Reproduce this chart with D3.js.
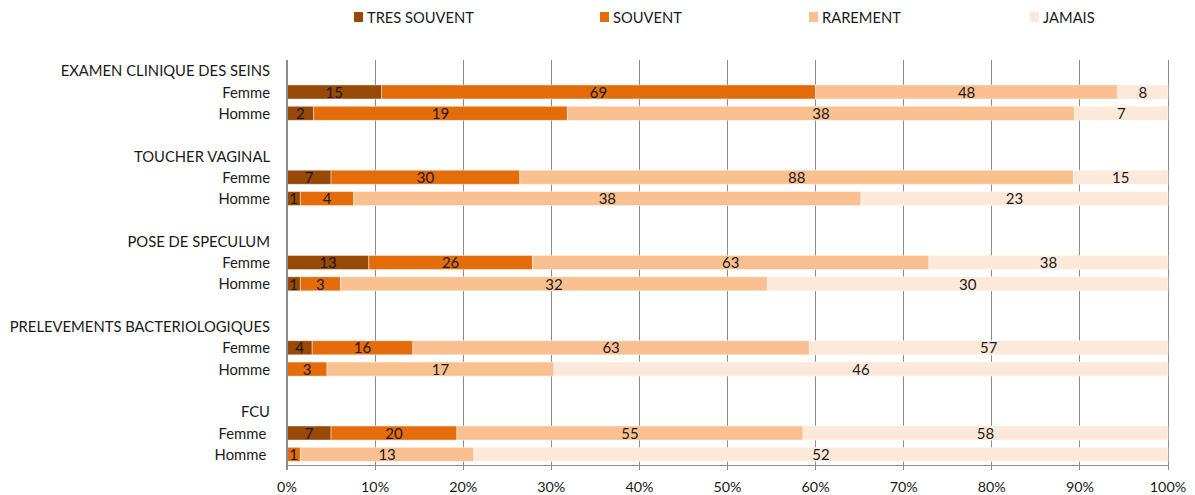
<!DOCTYPE html>
<html><head><meta charset="utf-8">
<script src="https://cdn.jsdelivr.net/npm/d3@7"></script>
<style>body{margin:0;background:#fff}text{font-family:Lato,"Open Sans",sans-serif}</style>
</head><body><svg id="c" width="1195" height="495"></svg>
<script>
const categories = ["EXAMEN CLINIQUE DES SEINS","TOUCHER VAGINAL","POSE DE SPECULUM","PRELEVEMENTS BACTERIOLOGIQUES","FCU"];
const groups = ["Femme","Homme"];
const series = ["TRES SOUVENT","SOUVENT","RAREMENT","JAMAIS"];
const colors = ["#984807","#E46C0A","#FAC090","#FDE9D9"];
const tresSouvent = [[15,2],[7,1],[13,1],[4,0],[7,0]];
const souvent     = [[69,19],[30,4],[26,3],[16,3],[20,1]];
const rarement    = [[48,38],[88,38],[63,32],[63,17],[55,13]];
const jamais      = [[8,7],[15,23],[38,30],[57,46],[58,52]];
const tickLabels = ["0%","10%","20%","30%","40%","50%","60%","70%","80%","90%","100%"];

(function(){
const svg = d3.select("#c");
const mLeft = 287, mRight = 1168, mTop = 60, mBottom = 465;
const x = d3.scaleLinear().domain([0,1]).range([mLeft,mRight]);

const rows = [];
categories.forEach((c,i)=>{
  rows.push({key:"t"+i,label:c,type:"title"});
  groups.forEach((g,j)=>rows.push({key:"r"+i+"_"+j,label:(i===categories.length-1? g+" ":g),type:"bar",ci:i,gi:j}));
  if(i<categories.length-1) rows.push({key:"b"+i,label:"",type:"blank"});
});
const y = d3.scaleBand().domain(rows.map(r=>r.key)).range([mTop,mBottom]).paddingInner(0.34).paddingOuter(0.17);

const g = svg.append("g");
g.selectAll("line.grid").data(d3.range(1,11)).join("line")
  .attr("x1",d=>x(d/10)).attr("x2",d=>x(d/10)).attr("y1",mTop).attr("y2",mBottom+5)
  .attr("stroke","#8c8c8c").attr("stroke-width",1).attr("shape-rendering","crispEdges");

const all = [tresSouvent,souvent,rarement,jamais];
rows.filter(r=>r.type==="bar").forEach(r=>{
  const vals = all.map(s=>s[r.ci][r.gi]);
  const tot = d3.sum(vals);
  let acc = 0;
  vals.forEach((v,k)=>{
    const x0 = x(acc/tot), x1 = x((acc+v)/tot);
    acc += v;
    if(v===0) return;
    g.append("rect").attr("x",x0).attr("y",y(r.key)).attr("width",x1-x0).attr("height",y.bandwidth())
      .attr("fill",colors[k]).attr("stroke","rgba(255,255,255,0.55)").attr("stroke-width",0.8);
    g.append("text").attr("x",(x0+x1)/2).attr("y",y(r.key)+y.bandwidth()/2).attr("dy","0.38em")
      .attr("text-anchor","middle").attr("font-size",15).attr("fill","#1a1a1a").text(v);
  });
});

g.append("line").attr("x1",mLeft).attr("x2",mLeft).attr("y1",mTop).attr("y2",mBottom+5).attr("stroke","#8c8c8c").attr("stroke-width",2);
g.append("line").attr("x1",mLeft).attr("x2",mRight).attr("y1",mBottom).attr("y2",mBottom).attr("stroke","#8c8c8c").attr("stroke-width",1).attr("shape-rendering","crispEdges");

g.selectAll("text.rl").data(rows.filter(r=>r.type!=="blank")).join("text")
  .attr("x",270).attr("y",r=>y(r.key)+y.bandwidth()/2).attr("dy","0.38em")
  .attr("text-anchor","end").attr("font-size",14.8).attr("fill","#1a1a1a")
  .attr("xml:space","preserve").text(r=>r.label);

g.selectAll("text.tk").data(tickLabels).join("text")
  .attr("x",(d,i)=>x(i/10)).attr("y",487).attr("dy","0.38em").attr("text-anchor","middle")
  .attr("font-size",14.3).attr("fill","#1a1a1a").text(d=>d);

const legX = [354,600,809,1030];
const lg = svg.append("g");
series.forEach((s,i)=>{
  lg.append("rect").attr("x",legX[i]).attr("y",12).attr("width",9).attr("height",10).attr("fill",colors[i]);
  lg.append("text").attr("x",legX[i]+13).attr("y",17).attr("dy","0.38em").attr("font-size",14.7).attr("fill","#1a1a1a").text(s);
});
})();
</script></body></html>
